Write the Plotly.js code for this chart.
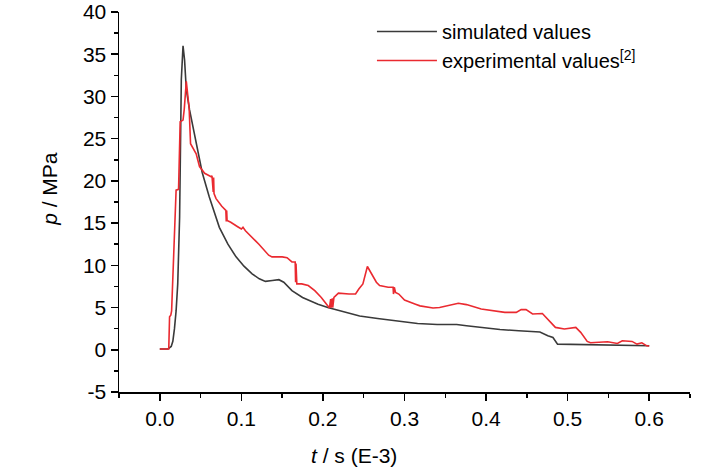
<!DOCTYPE html>
<html>
<head>
<meta charset="utf-8">
<script src="https://cdn.plot.ly/plotly-3.0.1.min.js"></script>
<style>html,body{margin:0;padding:0;background:#fff;}#chart{width:728px;height:468px;}</style>
</head>
<body>
<div id="chart"></div>
<script>
// Simulated pressure (black)
const simT = [0, 0.010, 0.014, 0.016, 0.018, 0.020, 0.022, 0.0243, 0.0264, 0.0275, 0.0285, 0.0304, 0.0325, 0.0365, 0.0405, 0.0446, 0.052, 0.0607, 0.073, 0.0835, 0.0935, 0.1032, 0.1132, 0.122, 0.1295, 0.138, 0.146, 0.152, 0.162, 0.175, 0.194, 0.206, 0.225, 0.245, 0.267, 0.29, 0.316, 0.34, 0.364, 0.376, 0.40, 0.417, 0.44, 0.466, 0.4757, 0.482, 0.4876, 0.50, 0.55, 0.60];
const simP = [0.1, 0.1, 0.4, 1.0, 2.5, 4.6, 7.8, 15.7, 32.0, 35.2, 36.0, 34.3, 30.8, 28.4, 26.5, 24.6, 21.0, 18.1, 14.5, 12.5, 11.0, 9.9, 9.0, 8.4, 8.1, 8.2, 8.3, 8.0, 7.0, 6.2, 5.4, 5.0, 4.5, 4.0, 3.7, 3.4, 3.12, 3.0, 3.0, 2.85, 2.55, 2.4, 2.25, 2.1, 1.66, 1.46, 0.67, 0.65, 0.55, 0.47];

// Experimental pressure (red)
const expT = [0, 0.011, 0.012, 0.0135, 0.0145, 0.020, 0.023, 0.025, 0.0285, 0.030, 0.0325, 0.0335, 0.0345, 0.036, 0.0377, 0.042, 0.0446, 0.0487, 0.055, 0.063, 0.064, 0.0655, 0.066, 0.0665, 0.069, 0.076, 0.081, 0.0815, 0.082, 0.0825, 0.087, 0.095, 0.100, 0.102, 0.105, 0.1174, 0.1215, 0.1335, 0.1376, 0.150, 0.156, 0.162, 0.166, 0.1665, 0.167, 0.168, 0.174, 0.182, 0.190, 0.198, 0.206, 0.208, 0.2095, 0.210, 0.2115, 0.212, 0.2135, 0.219, 0.232, 0.240, 0.244, 0.249, 0.2545, 0.2595, 0.2655, 0.2695, 0.280, 0.286, 0.2865, 0.2875, 0.289, 0.293, 0.300, 0.3135, 0.319, 0.335, 0.343, 0.366, 0.376, 0.394, 0.423, 0.437, 0.443, 0.449, 0.457, 0.469, 0.477, 0.485, 0.496, 0.510, 0.516, 0.524, 0.528, 0.549, 0.561, 0.567, 0.579, 0.585, 0.591, 0.594, 0.597, 0.600];
const expP = [0.1, 0.1, 3.9, 4.1, 4.6, 18.9, 19.0, 27.0, 27.2, 28.5, 31.8, 31.0, 29.6, 28.6, 24.4, 23.6, 23.2, 21.7, 20.9, 20.5, 20.6, 18.7, 20.4, 18.5, 17.9, 17.0, 16.5, 15.2, 16.5, 15.3, 15.1, 14.6, 14.3, 14.5, 14.1, 12.9, 12.5, 11.2, 11.0, 11.0, 10.9, 10.4, 10.4, 8.0, 10.2, 7.8, 7.8, 7.6, 7.0, 6.2, 5.2, 4.95, 6.0, 5.0, 6.1, 5.0, 6.2, 6.7, 6.6, 6.6, 7.2, 7.8, 9.86, 9.0, 8.0, 7.6, 7.4, 7.4, 6.6, 7.4, 6.8, 6.6, 5.9, 5.4, 5.2, 4.95, 5.0, 5.5, 5.35, 4.83, 4.43, 4.43, 4.75, 4.75, 4.24, 4.3, 3.44, 2.65, 2.46, 2.65, 2.06, 0.99, 0.83, 0.95, 0.75, 1.07, 0.99, 0.67, 0.83, 0.6, 0.47, 0.45];

const seriesNames = ['simulated values', 'experimental values<sup>[2]</sup>'];
const xTickVals = [0.0, 0.1, 0.2, 0.3, 0.4, 0.5, 0.6];
const xTickText = ['0.0', '0.1', '0.2', '0.3', '0.4', '0.5', '0.6'];
const yTickVals = [-5, 0, 5, 10, 15, 20, 25, 30, 35, 40];
const yTickText = ['-5', '0', '5', '10', '15', '20', '25', '30', '35', '40'];
const xTitle = '<i>t</i> / s (E-3)';
const yTitle = '<i>p</i> / MPa';

const FONT = '"Liberation Sans", Arial, sans-serif';

const traces = [
  {x: simT, y: simP, name: seriesNames[0], mode: 'lines', line: {color: '#3a3a3a', width: 1.6}},
  {x: expT, y: expP, name: seriesNames[1], mode: 'lines', line: {color: '#ea2a30', width: 1.6}}
];

const axisCommon = {
  showline: true, linecolor: '#000', linewidth: 1.5,
  ticks: 'outside', ticklen: 7, tickwidth: 1.5, tickcolor: '#000',
  showgrid: false, zeroline: false, mirror: false,
  ticklabeloverflow: 'allow',
  tickfont: {family: FONT, size: 21, color: '#000'}
};

const layout = {
  width: 728, height: 468,
  margin: {l: 118.5, r: 37.5, t: 12, b: 76.3},
  paper_bgcolor: '#fff', plot_bgcolor: '#fff',
  font: {family: FONT, color: '#000'},
  showlegend: true,
  legend: {x: 0.443, y: 1.0, xanchor: 'left', yanchor: 'top', bgcolor: 'rgba(0,0,0,0)',
           font: {family: FONT, size: 20, color: '#000'}, itemwidth: 60, tracegroupgap: 0},
  xaxis: Object.assign({}, axisCommon, {
    range: [-0.05, 0.65], tickmode: 'array', tickvals: xTickVals, ticktext: xTickText,
    minor: {dtick: 0.05, tick0: 0, ticks: 'outside', ticklen: 4, tickwidth: 1.5, tickcolor: '#000', showgrid: false}
  }),
  yaxis: Object.assign({}, axisCommon, {
    range: [-5, 40], tickmode: 'array', tickvals: yTickVals, ticktext: yTickText,
    minor: {dtick: 2.5, tick0: 0, ticks: 'outside', ticklen: 4, tickwidth: 1.5, tickcolor: '#000', showgrid: false}
  }),
  annotations: [
    {text: xTitle, xref: 'paper', yref: 'paper', x: 0.412, y: -0.167, xanchor: 'center', yanchor: 'middle',
     showarrow: false, font: {family: FONT, size: 21, color: '#000'}},
    {text: yTitle, xref: 'paper', yref: 'paper', x: -0.123, y: 0.534, xanchor: 'center', yanchor: 'middle',
     textangle: -90, showarrow: false, font: {family: FONT, size: 21, color: '#000'}}
  ]
};

Plotly.newPlot('chart', traces, layout, {displayModeBar: false, staticPlot: true});
</script>
</body>
</html>
